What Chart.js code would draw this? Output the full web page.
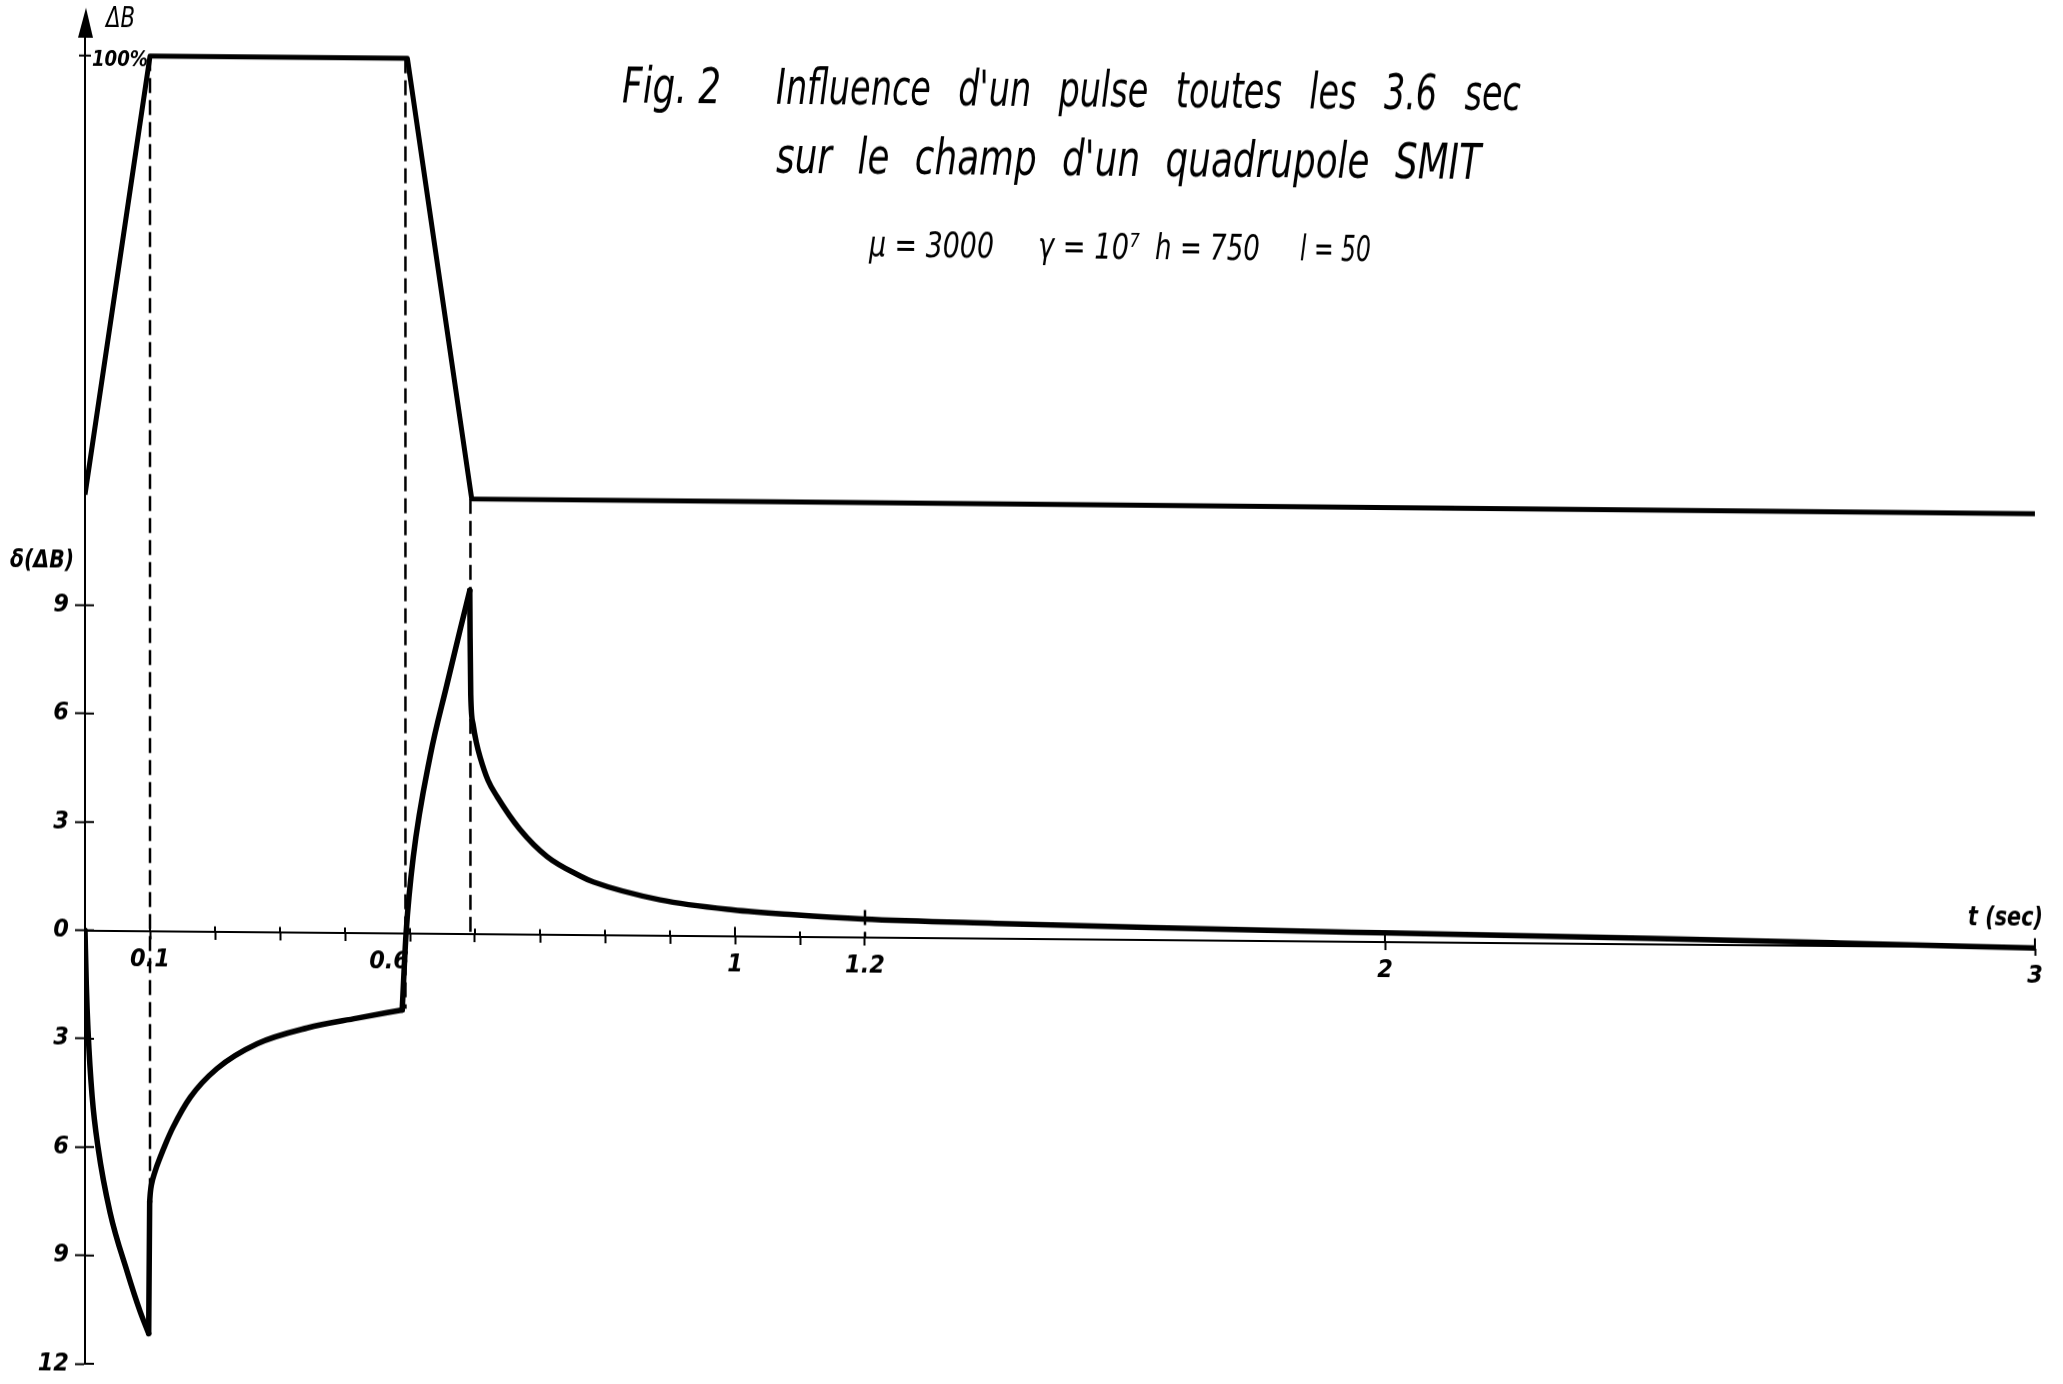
<!DOCTYPE html>
<html>
<head>
<meta charset="utf-8">
<script src="https://cdn.jsdelivr.net/npm/chart.js@4.4.1/dist/chart.umd.min.js"></script>
<style>
  html, body { margin: 0; padding: 0; background: #fff; overflow: hidden; }
  #wrap { width: 2063px; height: 1384px; }
  /* the scanned sheet is sheared by about half a degree */
  #chart { transform: skewY(0.5deg); transform-origin: 0 0; }
</style>
</head>
<body>
<div id="wrap"><canvas id="chart" width="2063" height="1384"></canvas></div>
<script>
// delta(dB) trace (t in sec; values under the t axis are negative)
const deltaT    = [0, 0.002, 0.0046, 0.011, 0.02, 0.0385, 0.065, 0.085, 0.098,
                   0.0995, 0.1005, 0.102, 0.108, 0.115, 0.125, 0.135, 0.162, 0.203, 0.265, 0.342, 0.418, 0.488,
                   0.494, 0.505, 0.531, 0.557, 0.577, 0.592,
                   0.5925, 0.5935, 0.597, 0.602, 0.608, 0.62, 0.634, 0.669, 0.711, 0.762, 0.782,
                   0.885, 0.997, 1.09, 1.197, 1.4, 1.64, 2.0, 2.41, 2.7, 3.0]
const deltaVals = [0, -1.5, -2.75, -4.6, -6.0, -7.8, -9.45, -10.55, -11.15,
                   -7.5, -7.25, -7.05, -6.65, -6.3, -5.85, -5.45, -4.6, -3.8, -3.1, -2.65, -2.37, -2.13,
                   0, 2.1, 4.9, 6.9, 8.4, 9.5,
                   8.2, 6.6, 5.8, 5.3, 4.88, 4.25, 3.8, 2.9, 2.15, 1.62, 1.46,
                   0.98, 0.72, 0.6, 0.5, 0.41, 0.33, 0.24, 0.15, 0.07, -0.02]
// index ranges of the smooth pieces (the trace has corners at the pulse edges)
const deltaPieces = [[0, 8], [8, 9], [9, 21], [21, 27], [27, deltaT.length - 1]]

// field pulse dB in % of the full field
const fieldT    = [0, 0.1, 0.496, 0.595, 3]
const fieldVals = [49.8, 100, 100, 49.7, 49.55]

// dashed guide lines: time, top and bottom in delta units
const K = 4.13   // % of dB per delta unit on the sheet
const guideT      = [0.1, 0.493, 0.593, 1.2]
const guideTop    = [100 / K, 100 / K, 49.7 / K, 0.75]
const guideBottom = [-7.5, -2.1, 0, 0]

// axes
const yMin = -12
const yMax = 24.9
const yTickValues = [-12, -9, -6, -3, 0, 3, 6, 9]
const yTickLabels = ['12', '9', '6', '3', '0', '3', '6', '9']
const xTickValues = [0.1, 0.2, 0.3, 0.4, 0.5, 0.6, 0.7, 0.8, 0.9, 1, 1.1, 1.2, 2, 3]
const xTickLabels = ['0.1', '', '', '', '0.6', '', '', '', '', '1', '', '1.2', '2', '3']
const xLabelsLeftOfTick = [0.5]   // the sheet writes this one left of its tick
const xMajor = [1, 2, 3]

const ink = '#000'
const fam = "'DejaVu Sans Condensed', 'DejaVu Sans', sans-serif"
const tickFont = { family: fam, size: 25, style: 'italic', weight: 'bold' }

const toPoints = (xs, ys) => xs.map((x, i) => ({ x: x, y: ys[i] }))

const deltaSets = deltaPieces.map(([a, b]) => ({
    data: toPoints(deltaT.slice(a, b + 1), deltaVals.slice(a, b + 1)),
    yAxisID: 'y',
    borderColor: ink,
    borderWidth: 5.5,
    pointRadius: 0,
    cubicInterpolationMode: 'monotone',
    borderJoinStyle: 'round',
    borderCapStyle: 'round'
}))

const guideSets = guideT.map((t, i) => ({
    data: [{ x: t, y: guideTop[i] }, { x: t, y: guideBottom[i] }],
    yAxisID: 'y',
    borderColor: ink,
    borderWidth: 2.5,
    borderDash: [15, 7],
    pointRadius: 0
}))

// text squeezed to a given width (the sheet uses narrow stencil lettering)
function fitText(ctx, text, x, y, width) {
    const w = ctx.measureText(text).width
    ctx.save()
    ctx.translate(x, y)
    ctx.scale(width / w, 1)
    ctx.fillText(text, 0, 0)
    ctx.restore()
}

// words squeezed and spread over a line
function spreadText(ctx, text, x, y, width, fill) {
    const words = text.split(' ')
    const widths = words.map(w => ctx.measureText(w).width)
    const sum = widths.reduce((a, b) => a + b, 0)
    const squeeze = width * fill / sum
    const gap = (width - sum * squeeze) / (words.length - 1)
    let cx = x
    words.forEach((w, i) => {
        ctx.save()
        ctx.translate(cx, y)
        ctx.scale(squeeze, 1)
        ctx.fillText(w, 0, 0)
        ctx.restore()
        cx += widths[i] * squeeze + gap
    })
}

const decorations = {
    id: 'decorations',
    afterDraw(chart) {
        const ctx = chart.ctx
        const sx = chart.scales.x
        const sy = chart.scales.y
        const x0 = sx.getPixelForValue(0)
        const y0 = sy.getPixelForValue(0)
        ctx.save()
        ctx.fillStyle = ink
        ctx.strokeStyle = ink
        ctx.lineWidth = 2
        ctx.textAlign = 'left'
        ctx.textBaseline = 'alphabetic'

        // tick marks cross the axes on the sheet: draw the inner half
        ctx.beginPath()
        sx.ticks.forEach(t => {
            const px = sx.getPixelForValue(t.value)
            ctx.moveTo(px, y0)
            ctx.lineTo(px, y0 - (xMajor.includes(t.value) ? 9 : 5))
        })
        sy.ticks.forEach(t => {
            const py = sy.getPixelForValue(t.value)
            ctx.moveTo(x0, py)
            ctx.lineTo(x0 + 9, py)
        })
        ctx.stroke()

        // tick labels written left of their tick
        ctx.font = `italic bold ${tickFont.size}px ${fam}`
        ctx.textAlign = 'right'
        ctx.textBaseline = 'top'
        xLabelsLeftOfTick.forEach(v => {
            ctx.fillText(xTickLabels[xTickValues.indexOf(v)], sx.getPixelForValue(v) - 1, y0 + 16)
        })
        ctx.textAlign = 'left'
        ctx.textBaseline = 'alphabetic'

        // arrow on the vertical axis
        ctx.beginPath()
        ctx.moveTo(x0 + 1, 7)
        ctx.lineTo(x0 - 7, 37)
        ctx.lineTo(x0 + 8, 37)
        ctx.closePath()
        ctx.fill()

        // 100 % mark of the field scale
        const y100 = chart.scales.yB.getPixelForValue(100)
        ctx.beginPath()
        ctx.moveTo(x0 - 6, y100)
        ctx.lineTo(x0 + 6, y100)
        ctx.stroke()
        ctx.font = `italic bold 21px ${fam}`
        fitText(ctx, '100%', x0 + 7, y100 + 10, 56)

        ctx.font = `italic 28px ${fam}`
        fitText(ctx, 'ΔB', x0 + 21, 26, 29)

        ctx.font = `italic bold 24px ${fam}`
        fitText(ctx, 'δ(ΔB)', 10, 567, 64)

        ctx.font = `italic bold 27px ${fam}`
        fitText(ctx, 't (sec)', 1968, 908, 75)

        // title block
        ctx.font = `italic 50px ${fam}`
        fitText(ctx, 'Fig. 2', 622, 97, 99)
        spreadText(ctx, "Influence d'un pulse toutes les 3.6 sec", 776, 97, 745, 0.78)
        spreadText(ctx, "sur le champ d'un quadrupole SMIT", 776, 166, 705, 0.82)

        ctx.font = `italic 36px ${fam}`
        fitText(ctx, 'μ = 3000', 869, 249, 125)
        fitText(ctx, 'γ = 10⁷', 1038, 249, 102)
        fitText(ctx, 'h = 750', 1155, 249, 105)
        fitText(ctx, 'l = 50', 1300, 249, 71)
        ctx.restore()
    }
}

new Chart(document.getElementById('chart'), {
    type: 'line',
    data: {
        datasets: [
            {
                data: toPoints(fieldT, fieldVals),
                yAxisID: 'yB',
                borderColor: ink,
                borderWidth: 5,
                pointRadius: 0,
                tension: 0,
                borderJoinStyle: 'round'
            },
            ...deltaSets,
            ...guideSets
        ]
    },
    options: {
        responsive: false,
        animation: false,
        devicePixelRatio: 1,
        layout: { padding: { top: 30, right: 28, bottom: 16, left: 0 } },
        plugins: {
            legend: { display: false },
            tooltip: { enabled: false }
        },
        scales: {
            x: {
                type: 'linear',
                min: 0,
                max: 3,
                position: { y: 0 },
                border: { display: true, color: ink, width: 2 },
                grid: { drawOnChartArea: false, drawTicks: true, tickLength: 7, tickWidth: 2, color: ink },
                afterBuildTicks: s => { s.ticks = xTickValues.map(v => ({ value: v })) },
                ticks: {
                    autoSkip: false,
                    maxRotation: 0,
                    padding: 7,
                    color: ink,
                    font: tickFont,
                    callback: v => xLabelsLeftOfTick.includes(v) ? '' : xTickLabels[xTickValues.indexOf(v)]
                }
            },
            y: {
                type: 'linear',
                position: 'left',
                min: yMin,
                max: yMax,
                afterFit: s => { s.width = 85 },
                border: { display: true, color: ink, width: 2 },
                grid: { drawOnChartArea: false, drawTicks: true, tickLength: 10, tickWidth: 2, color: ink },
                afterBuildTicks: s => { s.ticks = yTickValues.map(v => ({ value: v })) },
                ticks: {
                    padding: 6,
                    color: ink,
                    font: tickFont,
                    callback: v => yTickLabels[yTickValues.indexOf(v)]
                }
            },
            yB: {
                type: 'linear',
                display: false,
                min: yMin * K,
                max: yMax * K
            }
        }
    },
    plugins: [decorations]
})
</script>
</body>
</html>
